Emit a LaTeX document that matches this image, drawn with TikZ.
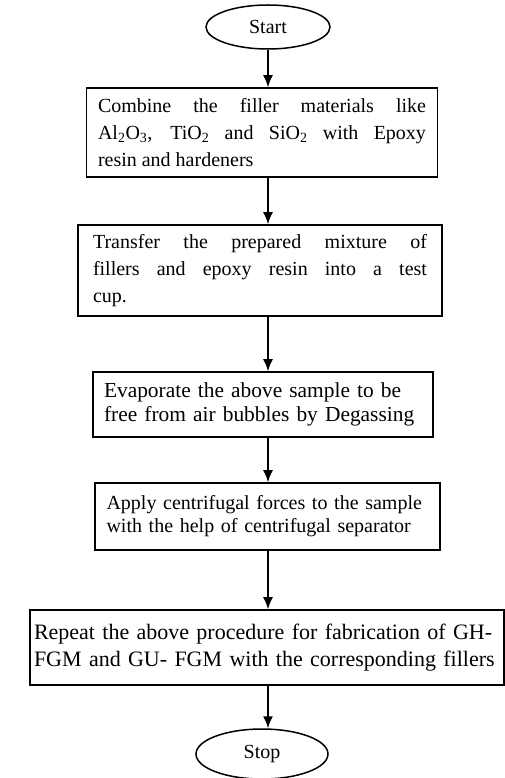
\documentclass[tikz,border=0pt]{standalone}
\usepackage{fontspec}
\setmainfont{Liberation Serif}
\usetikzlibrary{shapes.geometric,arrows.meta}

\begin{document}
\begin{tikzpicture}[x=1pt,y=-1pt,
  every node/.style={font=\fontsize{20}{27}\selectfont},
  term/.style={draw,ellipse,line width=1.5pt,inner sep=0pt},
  procbox/.style={draw,rectangle,line width=1.6pt,inner sep=0pt},
  arr/.style={line width=1.5pt,-{Latex[length=12pt,width=10pt]}}]
\useasboundingbox (0,0) rectangle (504,778);
\node[term,minimum width=124,minimum height=44] (start) at (268,27) {Start};
\node[procbox,minimum width=351,minimum height=89,text width=328,align=justify] (box1) at (262,132.5)
  {Combine the filler materials like\linebreak Al\textsubscript{2}O\textsubscript{3}, TiO\textsubscript{2} and SiO\textsubscript{2} with Epoxy\linebreak resin and hardeners};
\node[procbox,minimum width=364,minimum height=91,text width=334,align=justify] (box2) at (260,270.5)
  {Transfer the prepared mixture of\linebreak fillers and epoxy resin into a test\linebreak cup.};
\node[procbox,minimum width=340,minimum height=65,text width=318,align=left,
  font=\fontsize{21.4}{24}\selectfont] (box3) at (263,404.5)
  {Evaporate the above sample to be\\ free from air bubbles by Degassing};
\node[procbox,minimum width=345,minimum height=67,text width=322,align=left,
  font=\fontsize{20}{23}\selectfont] (box4) at (267.5,516.5)
  {Apply centrifugal forces to the sample\\ with the help of centrifugal separator};
\node[procbox,minimum width=474,minimum height=75,text width=466,align=left,
  font=\fontsize{22}{27}\selectfont] (box5) at (267,647.5)
  {Repeat the above procedure for fabrication of GH-\\ FGM and GU- FGM with the corresponding fillers};
\node[term,minimum width=132,minimum height=50] (stop) at (262,754) {Stop};
% connectors
\draw[arr] (start.south) -- (box1.north -| start);
\draw[arr] (box1.south -| start) -- (box2.north -| start);
\draw[arr] (box2.south -| start) -- (box3.north -| start);
\draw[arr] (box3.south -| start) -- (box4.north -| start);
\draw[arr] (box4.south -| start) -- (box5.north -| start);
\draw[arr] (box5.south -| start) -- (stop.north -| start);
\end{tikzpicture}
\end{document}
